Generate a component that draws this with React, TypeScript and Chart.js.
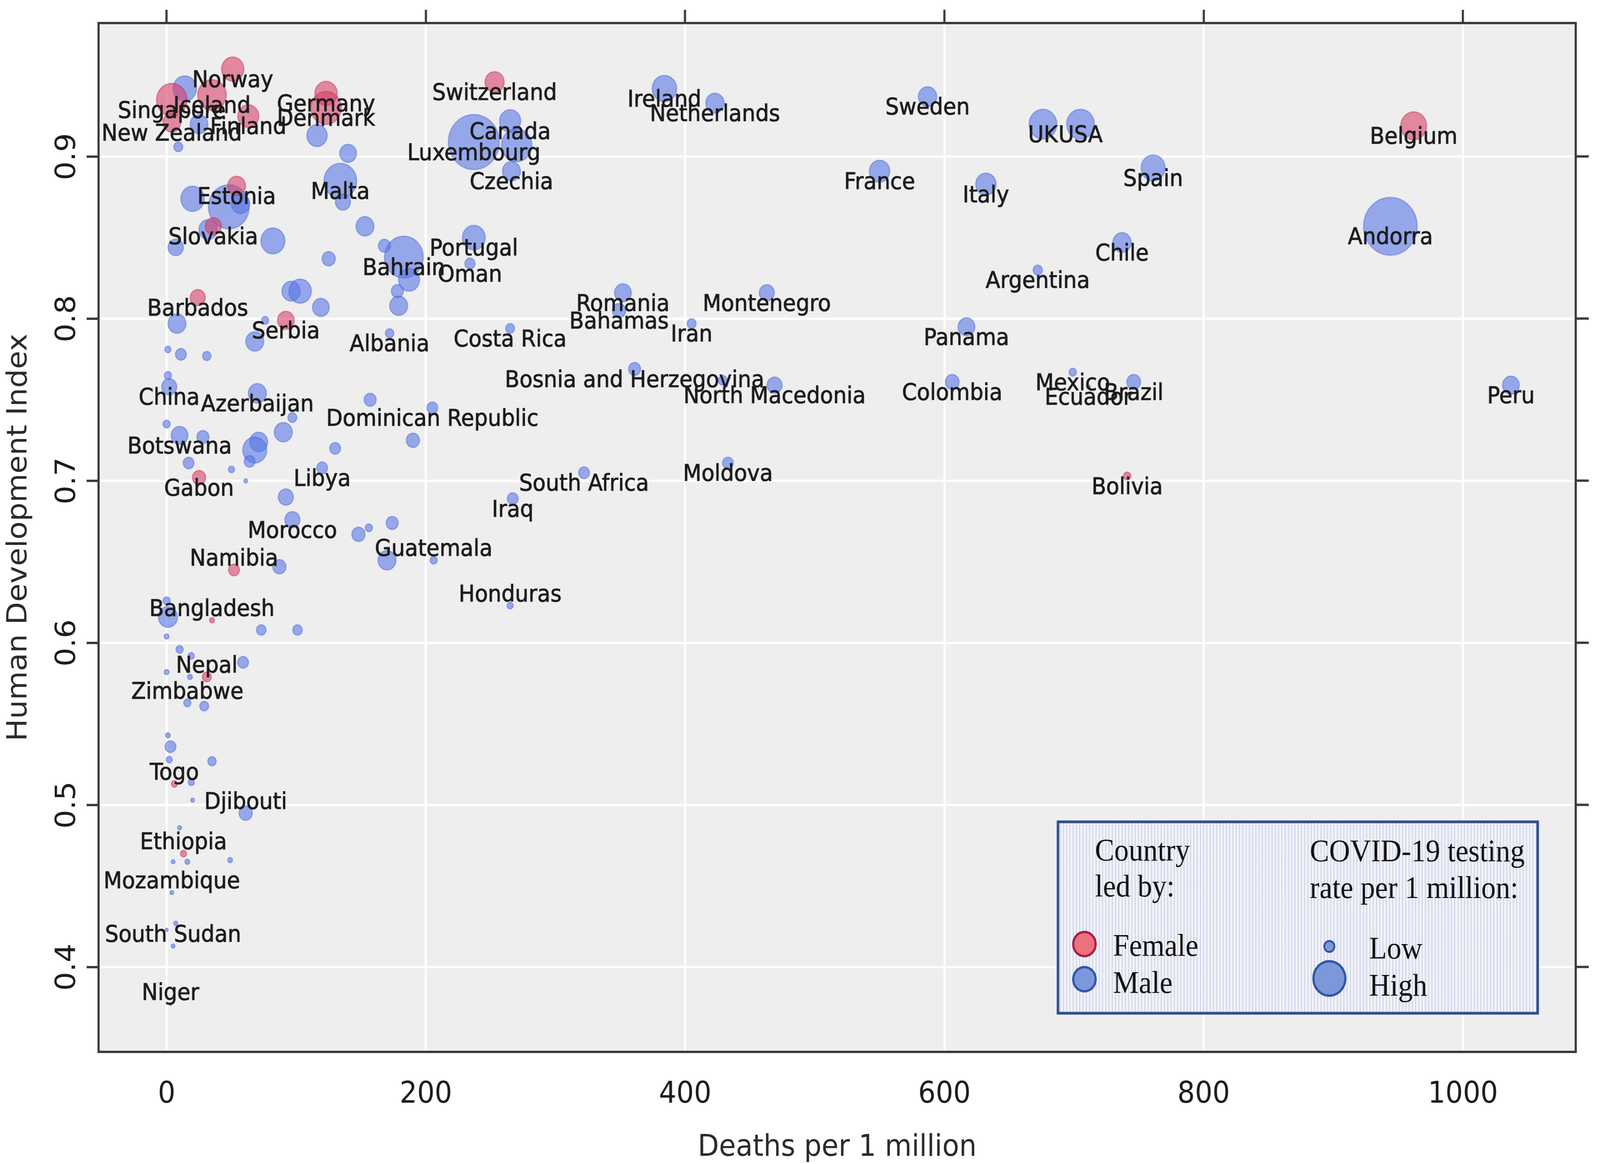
import { useEffect, useRef } from 'react';
import { Chart, registerables } from 'chart.js';

Chart.register(...registerables);

// countries that carry a name label in the figure
const labelledCountries = [
  'Norway', 'Iceland', 'Singapore', 'New Zealand', 'Finland', 'Germany', 'Denmark', 'Switzerland', 'Canada', 'Luxembourg',
  'Czechia', 'Malta', 'Estonia', 'Slovakia', 'Portugal', 'Bahrain', 'Oman', 'Barbados', 'Serbia', 'Albania',
  'Costa Rica', 'Ireland', 'Netherlands', 'Sweden', 'UK', 'USA', 'Belgium', 'France', 'Italy', 'Spain',
  'Andorra', 'Chile', 'Argentina', 'Romania', 'Bahamas', 'Montenegro', 'Iran', 'Panama', 'Bosnia and Herzegovina', 'North Macedonia',
  'Colombia', 'Mexico', 'Ecuador', 'Brazil', 'Peru', 'China', 'Azerbaijan', 'Dominican Republic', 'Botswana', 'Moldova',
  'Libya', 'South Africa', 'Bolivia', 'Gabon', 'Iraq', 'Morocco', 'Guatemala', 'Namibia', 'Honduras', 'Bangladesh',
  'Nepal', 'Zimbabwe', 'Togo', 'Djibouti', 'Ethiopia', 'Mozambique', 'South Sudan', 'Niger',
];
const labelledDeaths = [
  51, 35, 4, 4, 63, 123, 123, 253, 265, 237,
  266, 134, 54, 36, 237, 183, 234, 24, 92, 172,
  265, 384, 423, 587, 676, 705, 962, 550, 632, 761,
  944, 737, 672, 352, 349, 463, 405, 617, 361, 469,
  606, 699, 711, 746, 1037, 2, 70, 205, 10, 433,
  120, 322, 741, 25, 267, 97, 206, 52, 265, 35,
  31, 16, 6, 61, 13, 4, 5, 3,
];
const labelledHdi = [
  0.954, 0.938, 0.935, 0.921, 0.925, 0.939, 0.930, 0.946, 0.922, 0.909,
  0.891, 0.885, 0.882, 0.857, 0.850, 0.838, 0.834, 0.813, 0.799, 0.791,
  0.794, 0.942, 0.933, 0.937, 0.920, 0.920, 0.919, 0.891, 0.883, 0.893,
  0.857, 0.847, 0.830, 0.816, 0.805, 0.816, 0.797, 0.795, 0.769, 0.759,
  0.761, 0.767, 0.758, 0.761, 0.759, 0.758, 0.754, 0.745, 0.728, 0.711,
  0.708, 0.705, 0.703, 0.702, 0.689, 0.676, 0.651, 0.645, 0.623, 0.614,
  0.579, 0.563, 0.513, 0.495, 0.470, 0.446, 0.413, 0.377,
];
// tests per 1 million, in thousands
const labelledTesting = [
  215, 348, 400, 135, 189, 215, 400, 157, 189, 1111,
  138, 455, 135, 110, 223, 642, 44, 97, 120, 30,
  34, 256, 144, 144, 329, 329, 287, 178, 178, 248,
  1230, 144, 36, 120, 75, 97, 34, 120, 62, 97,
  82, 23, 7, 82, 120, 97, 138, 50, 120, 50,
  50, 50, 23, 75, 50, 97, 22, 50, 16, 10,
  34, 22, 16, 75, 16, 6, 6, 2,
];
const labelledLeader = [
  'F', 'F', 'F', 'F', 'F', 'F', 'F', 'F', 'M', 'M',
  'M', 'M', 'F', 'F', 'M', 'M', 'M', 'F', 'F', 'M',
  'M', 'M', 'M', 'M', 'M', 'M', 'F', 'M', 'M', 'M',
  'M', 'M', 'M', 'M', 'M', 'M', 'M', 'M', 'M', 'M',
  'M', 'M', 'M', 'M', 'M', 'M', 'M', 'M', 'M', 'M',
  'M', 'M', 'F', 'F', 'M', 'M', 'M', 'F', 'M', 'F',
  'F', 'M', 'F', 'M', 'F', 'M', 'M', 'M',
];

// further countries drawn as unlabelled bubbles (all male-led)
const otherCountries = [
  'Australia', 'Japan', 'South Korea', 'Austria', 'Slovenia', 'Israel', 'Cyprus', 'United Arab Emirates', 'Lithuania', 'Greece',
  'Saudi Arabia', 'Latvia', 'Brunei', 'Qatar', 'Hungary', 'Croatia', 'Russia', 'Bulgaria', 'Kuwait', 'Belarus',
  'Kazakhstan', 'Turkey', 'Mauritius', 'Georgia', 'Trinidad and Tobago', 'Sri Lanka', 'Cuba', 'Antigua and Barbuda', 'Thailand', 'Ukraine',
  'Tunisia', 'Mongolia', 'Jamaica', 'Lebanon', 'Jordan', 'Maldives', 'Philippines', 'Belize', 'Paraguay', 'Fiji',
  'Indonesia', 'Egypt', 'Palestine', 'Kyrgyzstan', 'El Salvador', 'Guyana', 'Cabo Verde', 'India', 'Timor-Leste', 'Bhutan',
  'Laos', 'Eswatini', 'Sao Tome and Principe', 'Ghana', 'Zambia', 'Equatorial Guinea', 'Cambodia', 'Kenya', 'Pakistan', 'Papua New Guinea',
  'Rwanda', 'Uganda', 'Mauritania', 'Senegal', 'Haiti', 'Malawi', 'Liberia', 'Gambia', 'Yemen', 'Mali',
  'Burundi', 'Armenia',
];
const otherDeaths = [
  14, 25, 9, 116, 140, 270, 20, 48, 57, 136,
  153, 32, 7, 82, 168, 125, 187, 178, 179, 96,
  103, 119, 8, 68, 76, 1, 11, 31, 1, 157,
  97, 0, 28, 90, 71, 68, 64, 130, 190, 17,
  50, 61, 92, 174, 148, 156, 170, 87, 0, 1,
  0, 73, 101, 10, 19, 59, 0, 18, 29, 1,
  3, 2, 35, 19, 20, 10, 5, 16, 49, 7,
  0, 429,
];
const otherHdi = [
  0.942, 0.920, 0.906, 0.913, 0.902, 0.907, 0.874, 0.869, 0.871, 0.872,
  0.857, 0.855, 0.844, 0.848, 0.845, 0.837, 0.824, 0.817, 0.808, 0.817,
  0.817, 0.807, 0.797, 0.786, 0.799, 0.781, 0.778, 0.777, 0.765, 0.750,
  0.739, 0.735, 0.727, 0.730, 0.724, 0.719, 0.712, 0.720, 0.725, 0.711,
  0.707, 0.700, 0.690, 0.674, 0.667, 0.671, 0.651, 0.647, 0.626, 0.616,
  0.604, 0.608, 0.608, 0.596, 0.592, 0.588, 0.582, 0.579, 0.561, 0.543,
  0.536, 0.528, 0.527, 0.514, 0.503, 0.486, 0.465, 0.465, 0.466, 0.427,
  0.423, 0.762,
];
const otherTesting = [
  235, 135, 34, 178, 120, 400, 235, 711, 144, 97,
  138, 144, 100, 248, 62, 75, 189, 62, 138, 144,
  215, 120, 138, 138, 22, 16, 50, 30, 22, 62,
  34, 22, 62, 138, 138, 248, 50, 50, 75, 50,
  16, 6, 97, 62, 75, 22, 138, 75, 22, 157,
  10, 39, 39, 22, 16, 50, 10, 10, 34, 10,
  50, 16, 30, 16, 6, 7, 6, 10, 10, 7,
  4, 34,
];

const xTicks = [0, 200, 400, 600, 800, 1000];
const yTicks = [0.4, 0.5, 0.6, 0.7, 0.8, 0.9];

// the figure is laid out on a 4416 x 2980 drawing surface, stretched to the window
const W = 4416;
const H = 2980;
const frameColor = '#3b3b3b';
const textColor = '#1c1c1c';
const bubbleScale = 2.11; // px of radius per sqrt(testing)

function bubble(x: number, y: number, t: number) {
  return { x, y, r: bubbleScale * Math.sqrt(t) };
}

const femalePoints: any[] = [];
const malePoints: any[] = [];
labelledCountries.forEach((_, i) => {
  const p = bubble(labelledDeaths[i], labelledHdi[i], labelledTesting[i]);
  (labelledLeader[i] === 'F' ? femalePoints : malePoints).push(p);
});
otherCountries.forEach((_, i) => {
  malePoints.push(bubble(otherDeaths[i], otherHdi[i], otherTesting[i]));
});

function legendPattern(ctx: CanvasRenderingContext2D) {
  const tile = document.createElement('canvas');
  tile.width = 9;
  tile.height = 4;
  const t = tile.getContext('2d')!;
  t.fillStyle = '#f1f2f6';
  t.fillRect(0, 0, 9, 4);
  t.fillStyle = 'rgba(60,85,200,0.5)';
  t.fillRect(0, 0, 2, 2);
  return ctx.createPattern(tile, 'repeat');
}

const figurePlugin = {
  id: 'figure',
  beforeDraw(chart: any) {
    const { ctx, chartArea: a } = chart;
    ctx.save();
    ctx.fillStyle = '#ffffff';
    ctx.fillRect(0, 0, W, H);
    ctx.fillStyle = '#eeeeee';
    ctx.fillRect(a.left, a.top, a.right - a.left, a.bottom - a.top);
    ctx.restore();
  },
  afterDatasetsDraw(chart: any) {
    const { ctx } = chart;
    const xs = chart.scales.x;
    const ys = chart.scales.y;
    ctx.save();
    ctx.font = '59px "DejaVu Sans"';
    ctx.fillStyle = textColor;
    ctx.strokeStyle = textColor;
    ctx.lineWidth = 1.2;
    ctx.textAlign = 'center';
    ctx.textBaseline = 'alphabetic';
    labelledCountries.forEach((name, i) => {
      const px = xs.getPixelForValue(labelledDeaths[i]);
      const py = ys.getPixelForValue(labelledHdi[i]);
      const by = labelledHdi[i] < 0.66 ? py - 11 : py + 46;
      ctx.fillText(name, px, by);
      ctx.strokeText(name, px, by);
    });
    ctx.restore();
  },
  afterDraw(chart: any) {
    const { ctx, chartArea: a } = chart;
    const xs = chart.scales.x;
    const ys = chart.scales.y;
    ctx.save();
    ctx.fillStyle = textColor;
    ctx.font = '76px "DejaVu Sans"';
    ctx.textAlign = 'center';
    ctx.textBaseline = 'alphabetic';
    xTicks.forEach((v) => ctx.fillText(String(v), xs.getPixelForValue(v), 2823));
    yTicks.forEach((v) => {
      ctx.save();
      ctx.translate(207, ys.getPixelForValue(v));
      ctx.rotate(-Math.PI / 2);
      ctx.fillText(v.toFixed(1), 0, 0);
      ctx.restore();
    });
    ctx.fillStyle = '#2a2a2a';
    ctx.fillText('Deaths per 1 million', (a.left + a.right) / 2, 2959);
    ctx.save();
    ctx.translate(73, (a.top + a.bottom) / 2);
    ctx.rotate(-Math.PI / 2);
    ctx.fillText('Human Development Index', 0, 0);
    ctx.restore();

    // legend box
    const bx = 2920, by = 2104, bw = 1324, bh = 490;
    ctx.fillStyle = legendPattern(ctx) || '#f1f2f6';
    ctx.fillRect(bx, by, bw, bh);
    ctx.strokeStyle = '#2f4e8e';
    ctx.lineWidth = 7;
    ctx.strokeRect(bx, by, bw, bh);

    ctx.fillStyle = '#111111';
    ctx.font = '80px "Liberation Serif"';
    ctx.textAlign = 'left';
    ctx.fillText('Country', 3022, 2203);
    ctx.fillText('led by:', 3022, 2295);
    ctx.fillText('COVID-19 testing', 3615, 2205);
    ctx.fillText('rate per 1 million:', 3615, 2299);
    ctx.fillText('Female', 3072, 2447);
    ctx.fillText('Male', 3072, 2542);
    ctx.fillText('Low', 3779, 2454);
    ctx.fillText('High', 3779, 2549);

    const dot = (cx: number, cy: number, r: number, fill: string, stroke: string, lw: number) => {
      ctx.beginPath();
      ctx.arc(cx, cy, r, 0, Math.PI * 2);
      ctx.fillStyle = fill;
      ctx.fill();
      ctx.strokeStyle = stroke;
      ctx.lineWidth = lw;
      ctx.stroke();
    };
    dot(2993, 2417, 31, '#ec717c', '#a3204f', 6);
    dot(2993, 2507, 31, '#7c98da', '#2f56a8', 6);
    dot(3669, 2423, 14, '#7c98da', '#2f56a8', 5);
    dot(3669, 2505, 44, '#7c98da', '#2f56a8', 6);
    ctx.restore();
  },
};

const setTicks = (values: number[]) => (s: any) => {
  s.ticks = values.map((v) => ({ value: v }));
};

export default function App() {
  const canvasRef = useRef<HTMLCanvasElement | null>(null);
  const chartRef = useRef<Chart | null>(null);

  useEffect(() => {
    const ctx = canvasRef.current?.getContext('2d');
    if (!ctx) return;
    if (chartRef.current) chartRef.current.destroy();

    const xRange = { min: -52.5, max: 1087 };
    const yRange = { min: 0.3477, max: 0.9824 };
    const border = { display: true, color: frameColor, width: 6 };

    chartRef.current = new Chart(ctx, {
      type: 'bubble',
      data: {
        datasets: [
          {
            label: 'Female',
            data: femalePoints,
            backgroundColor: 'rgba(215,60,100,0.58)',
            borderColor: 'rgba(200,50,90,0.5)',
            borderWidth: 3,
          },
          {
            label: 'Male',
            data: malePoints,
            backgroundColor: 'rgba(85,115,230,0.58)',
            borderColor: 'rgba(75,105,220,0.5)',
            borderWidth: 3,
          },
        ],
      },
      options: {
        responsive: false,
        animation: false,
        events: [],
        layout: { padding: 0, autoPadding: false },
        plugins: { legend: { display: false }, tooltip: { enabled: false } },
        scales: {
          x: {
            type: 'linear',
            position: 'bottom',
            ...xRange,
            afterBuildTicks: setTicks(xTicks),
            afterFit: (s: any) => { s.height = 287; },
            ticks: { display: false },
            grid: { color: '#ffffff', lineWidth: 6, drawTicks: false },
            border,
          },
          xTop: {
            type: 'linear',
            position: 'top',
            ...xRange,
            afterBuildTicks: setTicks(xTicks),
            afterFit: (s: any) => { s.height = 59; },
            ticks: { display: false },
            grid: { drawOnChartArea: false, tickLength: 34, tickColor: frameColor, tickWidth: 6 },
            border,
          },
          y: {
            type: 'linear',
            position: 'left',
            ...yRange,
            afterBuildTicks: setTicks(yTicks),
            afterFit: (s: any) => { s.width = 272; },
            ticks: { display: false },
            grid: { color: '#ffffff', lineWidth: 6, tickLength: 33, tickColor: frameColor, tickWidth: 6 },
            border,
          },
          yRight: {
            type: 'linear',
            position: 'right',
            ...yRange,
            afterBuildTicks: setTicks(yTicks),
            afterFit: (s: any) => { s.width = 67; },
            ticks: { display: false },
            grid: { drawOnChartArea: false, tickLength: 36, tickColor: frameColor, tickWidth: 6 },
            border,
          },
        },
      },
      plugins: [figurePlugin],
    } as any);

    return () => {
      if (chartRef.current) {
        chartRef.current.destroy();
        chartRef.current = null;
      }
    };
  }, []);

  return (
    <div>
      <canvas
        ref={canvasRef}
        width={W}
        height={H}
        style={{ position: 'fixed', left: 0, top: 0, width: '100vw', height: '100vh', display: 'block' }}
      ></canvas>
    </div>
  );
}
